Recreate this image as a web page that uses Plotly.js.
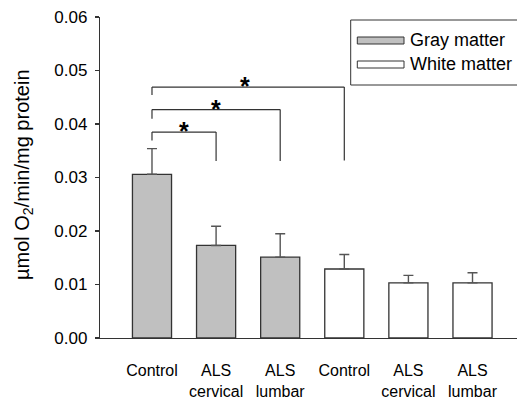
<!DOCTYPE html>
<html>
<head>
<meta charset="utf-8">
<script src="https://cdn.plot.ly/plotly-3.0.1.min.js"></script>
<style>html,body{margin:0;padding:0;background:#fff;}#chart{width:517px;height:402px;}</style>
</head>
<body>
<div id="chart"></div>
<script>
// ---- data ----
const categories = ["Control", "ALS<br>cervical", "ALS<br>lumbar", "Control", "ALS<br>cervical", "ALS<br>lumbar"];
const grayValues = [0.0306, 0.0173, 0.0151];
const grayErrors = [0.0048, 0.0036, 0.0044];
const whiteValues = [0.0129, 0.0103, 0.0103];
const whiteErrors = [0.0027, 0.0014, 0.0019];
const seriesNames = ["Gray matter", "White matter"];
const yTicks = [0, 0.01, 0.02, 0.03, 0.04, 0.05, 0.06];
// significance brackets: from category 0 to category bracketTo[i]
const bracketTo = [1, 2, 3];
const bracketTop = [0.0385, 0.0427, 0.0469];
const bracketLeftEnd = [0.0369, 0.0410, 0.0454];
const bracketRightEnd = [0.0331, 0.0331, 0.0332];
const starX = [0.5, 1.0, 1.45];

// ---- layout helpers (pixel -> paper) ----
const L = 100, T = 17, W = 417, H = 321;
const px = x => (x - L) / W;
const py = y => (T + H - y) / H;

const xGray = [0, 1, 2];
const xWhite = [3, 4, 5];

const font = "Liberation Sans, Arial, sans-serif";
const dark = "#333";

const traces = [
  {
    type: "bar", name: seriesNames[0], x: xGray, y: grayValues, width: 0.61,
    marker: {color: "#c0c0c0", line: {color: dark, width: 1.3}},
    error_y: {type: "data", symmetric: false, array: grayErrors, arrayminus: [0,0,0], color: "#555", thickness: 1.4, width: 5},
    showlegend: false, hoverinfo: "skip"
  },
  {
    type: "bar", name: seriesNames[1], x: xWhite, y: whiteValues, width: 0.61,
    marker: {color: "#ffffff", line: {color: dark, width: 1.3}},
    error_y: {type: "data", symmetric: false, array: whiteErrors, arrayminus: [0,0,0], color: "#555", thickness: 1.4, width: 5},
    showlegend: false, hoverinfo: "skip"
  }
];

const shapes = [];
const annotations = [];
bracketTo.forEach((to, i) => {
  shapes.push({type: "line", xref: "x", yref: "y", x0: 0, x1: 0, y0: bracketLeftEnd[i], y1: bracketTop[i], line: {color: dark, width: 1.2}});
  shapes.push({type: "line", xref: "x", yref: "y", x0: 0, x1: to, y0: bracketTop[i], y1: bracketTop[i], line: {color: dark, width: 1.2}});
  shapes.push({type: "line", xref: "x", yref: "y", x0: to, x1: to, y0: bracketTop[i], y1: bracketRightEnd[i], line: {color: dark, width: 1.2}});
  annotations.push({xref: "x", yref: "y", x: starX[i], y: bracketTop[i], text: "<b>*</b>", showarrow: false,
    font: {family: font, size: 25, color: "#000"}, xanchor: "center", yanchor: "middle", yshift: 1});
});

// legend (drawn)
shapes.push({type: "rect", xref: "paper", yref: "paper", x0: px(350.7), x1: px(540), y0: py(85), y1: py(20), line: {color: dark, width: 1}, fillcolor: "rgba(0,0,0,0)"});
shapes.push({type: "rect", xref: "paper", yref: "paper", x0: px(357.3), x1: px(404), y0: py(44), y1: py(37), line: {color: dark, width: 1}, fillcolor: "#c0c0c0"});
shapes.push({type: "rect", xref: "paper", yref: "paper", x0: px(357.3), x1: px(404), y0: py(68), y1: py(61), line: {color: dark, width: 1}, fillcolor: "#ffffff"});
annotations.push({xref: "paper", yref: "paper", x: px(408), y: py(40.5), text: seriesNames[0], showarrow: false, xanchor: "left", yanchor: "middle", font: {family: font, size: 18, color: "#000"}});
annotations.push({xref: "paper", yref: "paper", x: px(408), y: py(64.5), text: seriesNames[1], showarrow: false, xanchor: "left", yanchor: "middle", font: {family: font, size: 18, color: "#000"}});

// y title
annotations.push({xref: "paper", yref: "paper", x: px(23), y: py(175), text: "µmol O<sub>2</sub>/min/mg protein", showarrow: false, textangle: -90,
  xanchor: "center", yanchor: "middle", font: {family: font, size: 20, color: "#000"}});

const layout = {
  width: 517, height: 402,
  margin: {l: L, r: 517 - L - W, t: T, b: 402 - T - H, pad: 0},
  paper_bgcolor: "#fff", plot_bgcolor: "#fff",
  bargap: 0,
  xaxis: {
    range: [-0.811, 5.694], tickmode: "array", tickvals: [0,1,2,3,4,5], ticktext: categories,
    showline: true, linecolor: dark, linewidth: 1.2, ticks: "", showgrid: false, zeroline: false,
    ticklabelstandoff: 18, tickfont: {family: font, size: 16, color: "#000"}, fixedrange: true
  },
  yaxis: {
    range: [0, 0.06], tickmode: "array", tickvals: yTicks, ticktext: yTicks.map(v => v.toFixed(2)),
    showline: true, linecolor: dark, linewidth: 1.2, ticks: "outside", ticklen: 4, tickcolor: dark, tickwidth: 1.2,
    showgrid: false, zeroline: false, tickfont: {family: font, size: 17, color: "#000"}, ticklabelstandoff: 4, fixedrange: true
  },
  shapes: shapes,
  annotations: annotations,
  showlegend: false
};

Plotly.newPlot("chart", traces, layout, {displayModeBar: false, staticPlot: true});
</script>
</body>
</html>
